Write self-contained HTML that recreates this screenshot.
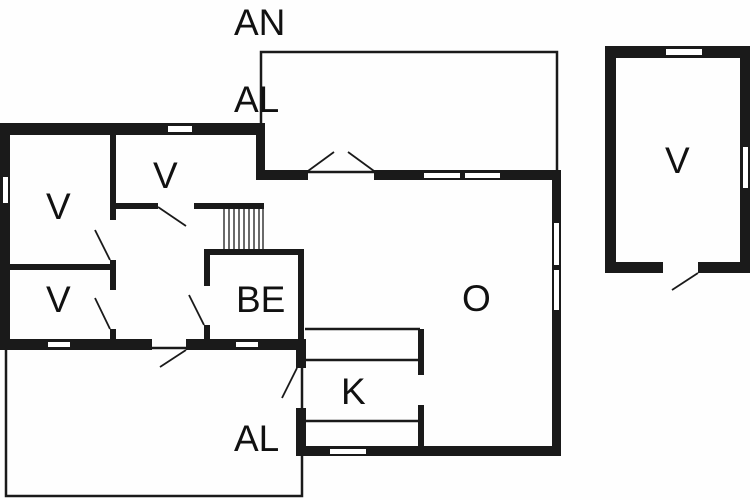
<!DOCTYPE html>
<html><head><style>
html,body{margin:0;padding:0;background:#fff;}
svg{display:block}
text{font-family:"Liberation Sans",sans-serif;font-size:37px;fill:#111;}
</style></head><body>
<svg width="750" height="500" viewBox="0 0 750 500" xmlns="http://www.w3.org/2000/svg">
<rect width="750" height="500" fill="#fefefe"/>
<g fill="none" stroke="#1a1a1a" stroke-width="2.5">
<rect x="261" y="52" width="296" height="120"/>
<rect x="6" y="348" width="296" height="148"/>
<line x1="305" y1="329" x2="420" y2="329"/>
<line x1="305" y1="360" x2="420" y2="360"/>
<line x1="305" y1="421" x2="420" y2="421"/>
</g>
<g stroke="#1a1a1a" stroke-width="1.8">
<line x1="308" y1="171" x2="334" y2="152"/>
<line x1="348" y1="152" x2="374" y2="171"/>
<line x1="110" y1="260" x2="95" y2="230"/>
<line x1="110" y1="329" x2="95" y2="298"/>
<line x1="158" y1="207" x2="186" y2="226"/>
<line x1="204" y1="325" x2="189" y2="295"/>
<line x1="186" y1="350" x2="160" y2="367"/>
<line x1="297" y1="368" x2="282" y2="398"/>
<line x1="698" y1="273" x2="672" y2="290"/>
<g stroke-width="1.3">
<line x1="224" y1="209" x2="224" y2="250"/><line x1="229" y1="209" x2="229" y2="250"/>
<line x1="234" y1="209" x2="234" y2="250"/><line x1="239" y1="209" x2="239" y2="250"/>
<line x1="244" y1="209" x2="244" y2="250"/><line x1="249" y1="209" x2="249" y2="250"/>
<line x1="254" y1="209" x2="254" y2="250"/><line x1="259" y1="209" x2="259" y2="250"/>
<line x1="263" y1="209" x2="263" y2="250"/>
</g>
</g>
<g fill="#1a1a1a">
<!-- left block -->
<rect x="0" y="123" width="265" height="12"/>
<rect x="0" y="123" width="10" height="227"/>
<rect x="256" y="123" width="9" height="57"/>
<rect x="256" y="170" width="52" height="10"/>
<rect x="110" y="135" width="6" height="85"/>
<rect x="110" y="260" width="6" height="30"/>
<rect x="110" y="329" width="6" height="12"/>
<rect x="10" y="264" width="106" height="6"/>
<rect x="116" y="203" width="42" height="6"/>
<rect x="194" y="203" width="70" height="6"/>
<rect x="0" y="339" width="152" height="11"/>
<rect x="186" y="339" width="120" height="11"/>
<!-- BE -->
<rect x="204" y="249" width="100" height="6"/>
<rect x="298" y="249" width="6" height="96"/>
<rect x="204" y="249" width="6" height="37"/>
<rect x="204" y="325" width="6" height="20"/>
<!-- O -->
<rect x="374" y="170" width="187" height="10"/>
<rect x="552" y="170" width="9" height="286"/>
<rect x="296" y="446" width="265" height="10"/>
<rect x="296" y="339" width="10" height="29"/>
<rect x="296" y="408" width="10" height="48"/>
<rect x="418" y="329" width="6" height="46"/>
<rect x="418" y="405" width="6" height="45"/>
<!-- right bldg -->
<rect x="605" y="46" width="145" height="12"/>
<rect x="605" y="46" width="11" height="227"/>
<rect x="740" y="46" width="10" height="227"/>
<rect x="605" y="262" width="58" height="11"/>
<rect x="698" y="262" width="52" height="11"/>
</g>
<g fill="#fff">
<rect x="168" y="126" width="24" height="6"/>
<rect x="3" y="177" width="5" height="26"/>
<rect x="48" y="342" width="22" height="5"/>
<rect x="236" y="342" width="22" height="5"/>
<rect x="424" y="173" width="36" height="5"/>
<rect x="465" y="173" width="35" height="5"/>
<rect x="554" y="223" width="5" height="42"/>
<rect x="554" y="270" width="5" height="40"/>
<rect x="330" y="449" width="36" height="5"/>
<rect x="666" y="49" width="36" height="6"/>
<rect x="743" y="147" width="5" height="41"/>
</g>
<text x="234" y="35">AN</text>
<text x="234" y="112">AL</text>
<text x="234" y="451">AL</text>
<text x="46" y="219">V</text>
<text x="153" y="188">V</text>
<text x="46" y="312">V</text>
<text x="236" y="312">BE</text>
<text x="462" y="311">O</text>
<text x="341" y="404">K</text>
<text x="665" y="173">V</text>
</svg>
</body></html>
